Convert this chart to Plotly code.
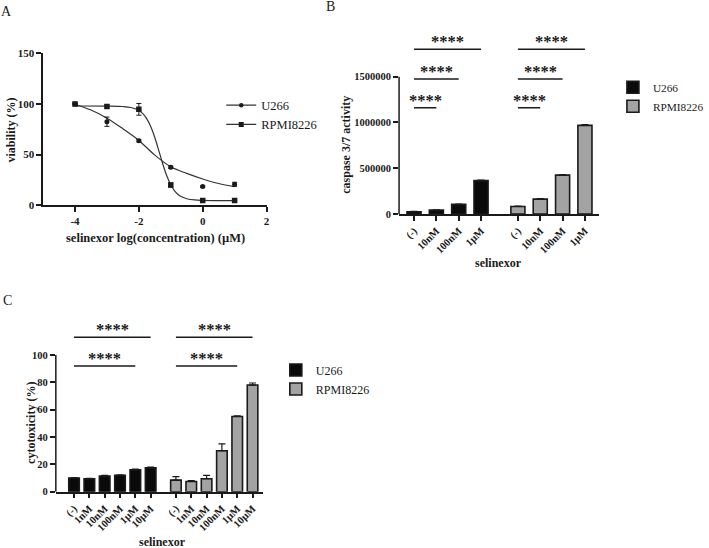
import plotly.graph_objects as go

SERIF = "Liberation Serif"
INK = "#1a1a1a"

# ---------------- Panel A: viability vs log concentration ----------------
A_logc = [-4, -3, -2, -1, 0, 1]
A_u266 = [100, 82.5, 63.8, 37.5, 18.5, 20.7]
A_u266_err = [0.8, 4.6, 1.2, 1.2, 0.8, 2.0]
A_rpmi = [100, 97.5, 94.7, 20.0, 4.7, 4.7]
A_rpmi_err = [0.8, 1.5, 5.8, 2.0, 0.5, 0.5]
A_xticks = [-4, -2, 0, 2]
A_xticklabels = ["-4", "-2", "0", "2"]
A_yticks = [0, 50, 100, 150]

# fitted curves
A_fit_u266_x = [-4, -3.5, -3, -2.5, -2, -1.5, -1, -0.5, 0, 0.5, 1]
A_fit_u266_y = [99.5, 94, 86, 75.5, 64, 49.5, 38, 31.5, 26, 21.5, 18.5]
A_fit_rpmi_x = [-4, -3, -2.5, -2.25, -2, -1.875, -1.75, -1.625, -1.5, -1.375,
                -1.25, -1.125, -1, -0.875, -0.75, -0.625, -0.5, -0.25, 0, 0.5, 1]
A_fit_rpmi_y = [98, 97.9, 97.5, 96.5, 93.6, 90.4, 85.3, 77.5, 66.9, 54.0,
                40.8, 29.1, 20.2, 14.1, 10.2, 7.9, 6.5, 5.3, 4.9, 4.7, 4.7]

# ---------------- Panel B: caspase 3/7 activity ----------------
B_cats = ["(-)", "10nM", "100nM", "1µM"]
B_u266 = [25000, 42000, 105000, 365000]
B_u266_err = [3000, 4000, 4000, 5000]
B_rpmi = [82000, 162000, 425000, 968000]
B_rpmi_err = [5000, 6000, 5000, 8000]
B_yticks = [0, 500000, 1000000, 1500000]
B_sig = [(0, 1, 1.16e6), (0, 2, 1.475e6), (0, 3, 1.80e6)]

# ---------------- Panel C: cytotoxicity ----------------
C_cats = ["(-)", "1nM", "10nM", "100nM", "1µM", "10µM"]
C_u266 = [10, 9.5, 11.5, 12, 16, 17.5]
C_u266_err = [0.4, 0.3, 0.4, 0.4, 0.5, 0.5]
C_rpmi = [8.5, 7.5, 9.5, 30, 55, 78]
C_rpmi_err = [2.5, 0.6, 2.5, 5, 0.4, 1.5]
C_yticks = [0, 20, 40, 60, 80, 100]
C_sig = [(0, 4, 92), (0, 5, 113)]

GAP = 0.65
COL_U = "#0a0a0a"
COL_R = "#a3a3a3"


def b(s):
    return "<b>" + str(s) + "</b>"


def positions(n):
    return list(range(n)), [n + GAP + i for i in range(n)]


B_pu, B_pr = positions(len(B_cats))
C_pu, C_pr = positions(len(C_cats))

fig = go.Figure()

# ---- Panel A traces
fig.add_trace(go.Scatter(x=A_fit_u266_x, y=A_fit_u266_y, mode="lines",
                         line=dict(color="#333", width=1.2, shape="spline"),
                         showlegend=False, xaxis="x", yaxis="y", hoverinfo="skip"))
fig.add_trace(go.Scatter(x=A_fit_rpmi_x, y=A_fit_rpmi_y, mode="lines",
                         line=dict(color="#333", width=1.2, shape="spline"),
                         showlegend=False, xaxis="x", yaxis="y", hoverinfo="skip"))
fig.add_trace(go.Scatter(x=A_logc, y=A_u266, mode="markers",
                         marker=dict(symbol="circle", size=5, color=INK),
                         error_y=dict(type="data", array=A_u266_err, color=INK,
                                      thickness=1, width=2.5),
                         showlegend=False, xaxis="x", yaxis="y"))
fig.add_trace(go.Scatter(x=A_logc, y=A_rpmi, mode="markers",
                         marker=dict(symbol="square", size=5.5, color=INK),
                         error_y=dict(type="data", array=A_rpmi_err, color=INK,
                                      thickness=1, width=2.5),
                         showlegend=False, xaxis="x", yaxis="y"))
fig.add_trace(go.Scatter(x=[None], y=[None], mode="lines+markers", name="U266",
                         line=dict(color="#333", width=1.2),
                         marker=dict(symbol="circle", size=4.5, color=INK),
                         legend="legend", xaxis="x", yaxis="y"))
fig.add_trace(go.Scatter(x=[None], y=[None], mode="lines+markers", name="RPMI8226",
                         line=dict(color="#333", width=1.2),
                         marker=dict(symbol="square", size=5, color=INK),
                         legend="legend", xaxis="x", yaxis="y"))


def bar(x, y, err, color, name, width, xa, ya, leg):
    return go.Bar(x=x, y=y, width=width, name=name,
                  marker=dict(color=color, line=dict(color=INK, width=1.6)),
                  error_y=dict(type="data", symmetric=False, array=err,
                               arrayminus=[0] * len(err), color=INK,
                               thickness=1.2, width=3.5),
                  xaxis=xa, yaxis=ya, legend=leg)


fig.add_trace(bar(B_pu, B_u266, B_u266_err, COL_U, "U266", 0.63, "x2", "y2", "legend2"))
fig.add_trace(bar(B_pr, B_rpmi, B_rpmi_err, COL_R, "RPMI8226", 0.63, "x2", "y2", "legend2"))
fig.add_trace(bar(C_pu, C_u266, C_u266_err, COL_U, "U266", 0.69, "x3", "y3", "legend3"))
fig.add_trace(bar(C_pr, C_rpmi, C_rpmi_err, COL_R, "RPMI8226", 0.69, "x3", "y3", "legend3"))

W, H = 709, 548


def px_x(p):
    return p / W


def px_y(p):
    return 1 - p / H


tickfont = dict(family=SERIF, size=11, color=INK, weight="bold")
tickfont_s = dict(family=SERIF, size=10.5, color=INK, weight="bold")
axis_common = dict(showgrid=False, zeroline=False, ticks="outside", ticklen=5,
                   tickwidth=1.5, tickcolor=INK, linecolor=INK, linewidth=1.5,
                   automargin=False, fixedrange=True)

layout = dict(
    width=W, height=H, template="none",
    margin=dict(l=0, r=0, t=0, b=0),
    paper_bgcolor="white", plot_bgcolor="white",
    font=dict(family=SERIF, color=INK),
    barmode="overlay",
    xaxis=dict(domain=[px_x(45), px_x(278.3)], range=[-5, 2], anchor="y",
               tickvals=A_xticks, ticktext=[b(t) for t in A_xticklabels],
               showline=True, tickfont=tickfont, **axis_common),
    yaxis=dict(domain=[px_y(205.3), px_y(53.3)], range=[0, 150], anchor="x",
               tickvals=A_yticks, ticktext=[b(t) for t in A_yticks],
               showline=True, tickfont=tickfont, **axis_common),
    xaxis2=dict(domain=[px_x(416.7), px_x(625.7)], range=[-0.669, 8.29], anchor="y2",
                tickvals=B_pu + B_pr, ticktext=[b(t) for t in B_cats + B_cats], tickangle=-45,
                showline=True, tickfont=tickfont_s, **axis_common),
    yaxis2=dict(domain=[px_y(214), px_y(30.93)], range=[0, 2.0e6], anchor="x2",
                tickvals=B_yticks, ticktext=[b(t) for t in B_yticks], showline=False,
                tickfont=tickfont_s, **axis_common),
    xaxis3=dict(domain=[px_x(58.3), px_x(275)], range=[-1.1875, 12.356], anchor="y3",
                tickvals=C_pu + C_pr, ticktext=[b(t) for t in C_cats + C_cats], tickangle=-45,
                showline=True, tickfont=tickfont_s, **axis_common),
    yaxis3=dict(domain=[px_y(491.7), px_y(320.8)], range=[0, 125], anchor="x3",
                tickvals=C_yticks, ticktext=[b(t) for t in C_yticks], showline=False,
                tickfont=tickfont_s, **axis_common),
    legend=dict(x=px_x(231), y=px_y(90.5), xanchor="left", yanchor="top",
                bgcolor="rgba(0,0,0,0)", font=dict(family=SERIF, size=12.5, color=INK)),
    legend2=dict(x=px_x(640), y=px_y(72.8), xanchor="left", yanchor="top",
                 bgcolor="rgba(0,0,0,0)", font=dict(family=SERIF, size=11.3, color=INK)),
    legend3=dict(x=px_x(288), y=px_y(355.5), xanchor="left", yanchor="top",
                 bgcolor="rgba(0,0,0,0)", font=dict(family=SERIF, size=12, color=INK)),
)
fig.update_layout(**layout)

shapes = []
annotations = []

# manual y-axis lines for B and C (axis stops at top tick)
shapes.append(dict(type="line", xref="x2 domain", yref="y2", x0=0, x1=0, y0=0, y1=B_yticks[-1],
                   line=dict(color=INK, width=1.5)))
shapes.append(dict(type="line", xref="x3 domain", yref="y3", x0=0, x1=0, y0=0, y1=C_yticks[-1],
                   line=dict(color=INK, width=1.5)))

star_font = dict(family=SERIF, size=16.5, color=INK, weight="bold")


def add_sig(pos, sig, xa, ya):
    for i, j, h in sig:
        shapes.append(dict(type="line", xref=xa, yref=ya, x0=pos[i], x1=pos[j], y0=h, y1=h,
                           line=dict(color=INK, width=1.5)))
        annotations.append(dict(x=(pos[i] + pos[j]) / 2, y=h, xref=xa, yref=ya,
                                text=b("****"), showarrow=False, yanchor="bottom",
                                yshift=-4, font=star_font))


add_sig(B_pu, B_sig, "x2", "y2")
add_sig(B_pr, B_sig, "x2", "y2")
add_sig(C_pu, C_sig, "x3", "y3")
add_sig(C_pr, C_sig, "x3", "y3")

title_font = dict(family=SERIF, size=12, color=INK, weight="bold")


def ptext(x, y, text, font, angle=0):
    annotations.append(dict(x=px_x(x), y=px_y(y), xref="paper", yref="paper", text=text,
                            showarrow=False, xanchor="center", yanchor="middle",
                            textangle=angle, font=font))


ptext(162.5, 238.3, b("selinexor log(concentration) (µM)"), dict(title_font, size=12.5))
ptext(12, 130, b("viability (%)"), title_font, -90)
ptext(361, 145, b("caspase 3/7 activity"), title_font, -90)
ptext(521, 263, b("selinexor"), title_font)
ptext(33, 423.3, b("cytotoxicity (%)"), title_font, -90)
ptext(170, 541.7, b("selinexor"), title_font)

panel_font = dict(family=SERIF, size=14, color=INK)
ptext(6.7, 11.3, "A", panel_font)
ptext(345, 6.7, "B", panel_font)
ptext(7.5, 300, "C", panel_font)

fig.update_layout(shapes=shapes, annotations=annotations)
fig.write_html("out.html")
